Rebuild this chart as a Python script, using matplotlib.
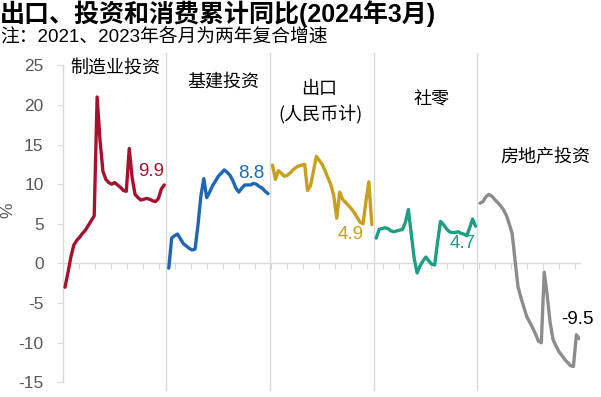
import matplotlib
matplotlib.use("Agg")
import matplotlib.pyplot as plt
import numpy as np

# ---------------- data ----------------
segment_names = ["制造业投资", "基建投资", "出口", "社零", "房地产投资"]
export_subname = "(人民币计)"

manufacturing = [-3.0, -1.2, 0.8, 2.3, 2.9, 3.3, 3.8, 4.2, 4.8, 5.4, 6.0,
                 21.0, 15.5, 11.6, 10.6, 10.2, 10.0, 10.2, 9.9, 9.6, 9.2, 9.1,
                 14.5, 10.8, 8.7, 8.3, 8.0, 8.1, 8.2, 8.1, 7.9, 7.8, 8.2,
                 9.4, 9.9]
infrastructure = [-0.6, 3.2, 3.5, 3.7, 3.1, 2.5, 2.2, 1.9, 1.7, 1.8, 4.8,
                  8.5, 10.7, 8.3, 9.0, 9.8, 10.4, 11.0, 11.4, 11.8, 11.5, 11.1,
                  10.4, 9.5, 9.0, 9.5, 9.9, 9.9, 9.9, 10.1, 10.0, 9.7, 9.5,
                  9.1, 8.8]
exports_rmb = [12.4, 10.6, 11.7, 11.4, 11.0, 11.1, 11.4, 11.8, 12.1, 12.3, 12.4,
               12.5, 9.2, 9.8, 11.6, 13.5, 13.0, 12.5, 11.7, 10.8, 9.9, 8.5,
               5.7, 9.0, 8.1, 7.7, 7.3, 6.9, 6.4, 5.8, 5.2, 5.0, 7.8,
               10.3, 4.9]
retail = [3.2, 4.3, 4.4, 4.5, 4.4, 4.1, 4.0, 4.1, 4.2, 4.3, 5.2,
          6.8, 3.7, 0.6, -1.2, -0.3, 0.3, 0.8, 0.3, -0.1, -0.2, 2.7,
          5.3, 4.9, 4.4, 4.0, 3.9, 3.9, 4.0, 3.8, 3.7, 3.5, 4.5,
          5.6, 4.7]
real_estate = [7.6, 7.8, 8.4, 8.7, 8.5, 8.1, 7.7, 7.3, 6.8, 6.1, 5.0,
               3.8, 0.4, -2.9, -4.3, -5.5, -6.7, -7.4, -8.1, -8.9, -9.8, -10.0,
               -1.1, -4.0, -7.4, -9.6, -10.4, -11.1, -11.6, -12.1, -12.5, -12.9, -13.0,
               -9.0, -9.5]
end_labels = ["9.9", "8.8", "4.9", "4.7", "-9.5"]
y_ticks = [-15, -10, -5, 0, 5, 10, 15, 20, 25]

series = [manufacturing, infrastructure, exports_rmb, retail, real_estate]
colors = ["#A6122D", "#1F67B4", "#C8A01E", "#1E9E85", "#8C8C8C"]
label_colors = ["#A6122D", "#1F67B4", "#C8A01E", "#1E9E85", "#000000"]

# ---------------- figure ----------------
plt.rcParams["font.family"] = ["Liberation Sans", "Noto Sans CJK SC", "DejaVu Sans"]
W, H = 601, 397
fig = plt.figure(figsize=(W / 100, H / 100), dpi=100)
fig.patch.set_facecolor("white")

x_left_px, x_right_px = 63, 579.6
y_top_px, y_bot_px = 65.3, 382.3
ax = fig.add_axes([x_left_px / W, 1 - y_bot_px / H,
                   (x_right_px - x_left_px) / W, (y_bot_px - y_top_px) / H])

STEP = 2.92            # px per month
PERIOD = 103.75 / STEP  # segment period in month units
X0 = -2 / STEP
ax.set_xlim(X0, X0 + (x_right_px - x_left_px) / STEP)
ax.set_ylim(-15, 25)

for k, vals in enumerate(series):
    xs = k * PERIOD + np.arange(len(vals))
    ax.plot(xs, vals, color=colors[k], lw=2.4, solid_capstyle="round",
            solid_joinstyle="round", zorder=3)

# separators
grey = "#D9D9D9"
for k in range(4):
    xs = k * PERIOD + 34.6
    ax.plot([xs, xs], [-16.0, 26.5], color=grey, lw=1.0, clip_on=False, zorder=1)

# axes styling
for s in ["top", "right"]:
    ax.spines[s].set_visible(False)
ax.spines["left"].set_color(grey)
ax.spines["bottom"].set_color(grey)
ax.spines["bottom"].set_position(("data", 0))
ax.spines["left"].set_linewidth(1.0)
ax.spines["bottom"].set_linewidth(1.0)

ax.set_yticks(y_ticks)
ax.set_yticklabels([str(v) for v in y_ticks])
ax.tick_params(axis="y", direction="out", length=4, color=grey, labelcolor="#595959",
               labelsize=12.5, pad=10)
xt = X0 + np.arange(0, 33) * (16 / STEP)
ax.set_xticks(xt)
ax.set_xticklabels([])
ax.tick_params(axis="x", direction="out", length=4, color=grey)

fig.text(8 / W, 1 - 210 / H, "%", rotation=90, ha="center", va="center",
         fontsize=12.5, color="#595959")

# title & note
fig.text(0, 1 - 0.5 / H, "出口、投资和消费累计同比(2024年3月)", ha="left", va="top",
         fontsize=18, fontweight="bold", color="black",
         family=["Liberation Sans", "Noto Sans CJK SC"])
fig.text(0, 1 - 28 / H, "注：2021、2023年各月为两年复合增速", ha="left", va="top",
         fontsize=13.5, color="black", family=["Liberation Sans", "Noto Sans CJK SC"])

def px2data(px, py):
    xd = X0 + (px - x_left_px) / STEP
    yd = 25 - (py - y_top_px) / (y_bot_px - y_top_px) * 40
    return xd, yd

cjk = ["Noto Sans CJK SC", "DejaVu Sans"]
name_pos = [(115, 68), (223.5, 82), (319, 89), (431, 99), (545.5, 157.5)]
for name, (px, py) in zip(segment_names, name_pos):
    xd, yd = px2data(px, py)
    ax.text(xd, yd, name, ha="center", va="center", fontsize=13, family=cjk)
xd, yd = px2data(320, 115)
ax.text(xd, yd, export_subname, ha="center", va="center", fontsize=13, family=cjk)

lab_pos = [(151.5, 172), (251, 173.5), (351, 234.5), (463, 243.5), (577.5, 319)]
for lab, (px, py), c in zip(end_labels, lab_pos, label_colors):
    xd, yd = px2data(px, py)
    ax.text(xd, yd, lab, ha="center", va="center", fontsize=13.5, color=c)

fig.savefig("out.png", dpi=100, facecolor="white")
